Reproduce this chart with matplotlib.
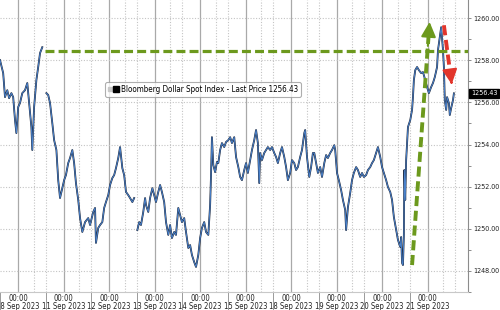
import numpy as np
import matplotlib
matplotlib.use("Agg")
from matplotlib import pyplot as plt
from matplotlib.lines import Line2D
from matplotlib.legend_handler import HandlerTuple
from matplotlib import font_manager
plt.rcParams["font.family"] = ["DejaVu Sans", "Liberation Sans"]

# x = trading-day position (0 = 08 Sep 00:00, 1 = 11 Sep 00:00, ...)
day_labels = ["08 Sep 2023", "11 Sep 2023", "12 Sep 2023", "13 Sep 2023", "14 Sep 2023",
              "15 Sep 2023", "18 Sep 2023", "19 Sep 2023", "20 Sep 2023", "21 Sep 2023"]

# 08 Sep session
t_a = [-0.40, -0.33, -0.29, -0.24, -0.20, -0.15, -0.11, -0.07, -0.04, 0.00, 0.04, 0.09,
       0.15, 0.20, 0.24, 0.29, 0.31, 0.35, 0.40, 0.44, 0.48, 0.53]
p_a = [1258.01, 1257.39, 1256.25, 1256.58, 1256.20, 1256.44, 1256.25, 1255.16, 1254.54,
       1255.78, 1255.97, 1256.44, 1256.58, 1256.92, 1255.97, 1254.83, 1253.74, 1255.78,
       1257.06, 1257.68, 1258.34, 1258.62]

# 11 - 12 Sep
t_b = [0.62, 0.66, 0.70, 0.75, 0.79, 0.84, 0.88, 0.92, 0.97, 1.01, 1.05, 1.10, 1.14, 1.19,
       1.23, 1.27, 1.32, 1.36, 1.41, 1.47, 1.54, 1.58, 1.65, 1.69, 1.71, 1.76, 1.80, 1.85,
       1.89, 1.93, 1.98, 2.02, 2.07, 2.11, 2.15, 2.20, 2.24, 2.29, 2.33, 2.37, 2.42, 2.46,
       2.51, 2.55]
p_b = [1256.44, 1256.35, 1255.97, 1255.02, 1254.21, 1253.74, 1252.31, 1251.46, 1251.93,
       1252.31, 1252.55, 1253.12, 1253.36, 1253.74, 1253.12, 1252.17, 1251.37, 1250.51,
       1249.85, 1250.32, 1250.51, 1250.18, 1250.80, 1250.99, 1249.33, 1250.04, 1250.18,
       1250.32, 1250.99, 1251.27, 1251.60, 1252.08, 1252.41, 1252.55, 1252.88, 1253.36,
       1253.88, 1252.88, 1252.55, 1251.75, 1251.60, 1251.46, 1251.27, 1251.46]

# 13 - 21 Sep
t_c = [2.62, 2.66, 2.70, 2.75, 2.79, 2.81, 2.86, 2.90, 2.95, 2.99, 3.03, 3.08, 3.12, 3.16,
       3.21, 3.25, 3.30, 3.34, 3.38, 3.43, 3.47, 3.52, 3.56, 3.60, 3.65, 3.69, 3.74, 3.78,
       3.82, 3.87, 3.91, 3.96, 4.00, 4.04, 4.09, 4.13, 4.18, 4.22, 4.24, 4.26, 4.29, 4.33,
       4.37, 4.40, 4.44, 4.48, 4.53, 4.57, 4.62, 4.66, 4.70, 4.75, 4.79, 4.84, 4.88, 4.92,
       4.97, 5.01, 5.05, 5.10, 5.14, 5.19, 5.23, 5.27, 5.30, 5.32, 5.36, 5.41, 5.45, 5.49,
       5.54, 5.58, 5.63, 5.67, 5.71, 5.76, 5.80, 5.85, 5.89, 5.93, 5.98, 6.02, 6.07, 6.11,
       6.15, 6.20, 6.24, 6.29, 6.31, 6.35, 6.40, 6.44, 6.48, 6.51, 6.55, 6.59, 6.64, 6.68,
       6.73, 6.77, 6.81, 6.86, 6.90, 6.95, 6.97, 7.01, 7.05, 7.10, 7.14, 7.19, 7.21, 7.25,
       7.30, 7.34, 7.38, 7.43, 7.47, 7.52, 7.56, 7.60, 7.65, 7.69, 7.74, 7.78, 7.82, 7.87,
       7.91, 7.96, 8.00, 8.04, 8.09, 8.13, 8.18, 8.22, 8.26, 8.31, 8.35, 8.40, 8.42, 8.44,
       8.46, 8.48, 8.49, 8.51, 8.53, 8.57, 8.62, 8.66, 8.68, 8.70, 8.73, 8.77, 8.81, 8.86,
       8.90, 8.95, 8.99, 9.03, 9.08, 9.12, 9.16, 9.21, 9.23, 9.27, 9.30, 9.34, 9.36, 9.38,
       9.41, 9.43, 9.47, 9.49, 9.52, 9.56, 9.58]
p_c = [1249.94, 1250.32, 1250.18, 1250.80, 1251.46, 1251.13, 1250.80, 1251.46, 1251.93,
       1251.60, 1251.27, 1251.75, 1252.08, 1251.75, 1251.27, 1250.32, 1249.71, 1250.18,
       1249.56, 1249.85, 1249.71, 1250.99, 1250.65, 1250.32, 1250.51, 1249.85, 1249.09,
       1249.23, 1248.76, 1248.42, 1248.19, 1248.76, 1249.56, 1250.04, 1250.32, 1249.85,
       1249.71, 1251.13, 1252.55, 1254.35, 1253.03, 1252.69, 1253.17, 1253.12, 1253.74,
       1254.07, 1253.88, 1254.12, 1254.21, 1254.35, 1254.07, 1254.35, 1253.41, 1252.93,
       1252.46, 1252.31, 1252.79, 1253.12, 1252.65, 1253.26, 1253.74, 1254.21, 1254.69,
       1254.07, 1252.17, 1253.60, 1253.26, 1253.60, 1253.74, 1253.88, 1253.74, 1253.88,
       1253.60, 1253.41, 1253.12, 1253.60, 1253.88, 1253.41, 1252.93, 1252.31, 1252.65,
       1253.26, 1253.12, 1252.79, 1252.93, 1253.41, 1253.74, 1254.54, 1254.69, 1253.41,
       1252.46, 1252.93, 1253.60, 1253.60, 1253.12, 1252.65, 1252.93, 1252.46, 1253.12,
       1253.50, 1253.36, 1253.60, 1253.74, 1253.97, 1253.74, 1252.65, 1252.31, 1251.84,
       1251.37, 1250.89, 1249.94, 1251.03, 1251.70, 1252.31, 1252.65, 1252.93, 1252.79,
       1252.46, 1252.65, 1252.46, 1252.55, 1252.79, 1252.93, 1253.12, 1253.26, 1253.60,
       1253.88, 1253.41, 1252.93, 1252.65, 1252.31, 1251.98, 1251.75, 1251.37, 1250.56,
       1249.94, 1249.47, 1249.14, 1249.61, 1248.38, 1248.28, 1249.71, 1252.79, 1251.37,
       1253.26, 1254.83, 1255.16, 1255.64, 1256.25, 1257.06, 1257.53, 1257.68, 1257.53,
       1257.39, 1257.44, 1257.06, 1256.73, 1256.44, 1256.73, 1256.92, 1257.20, 1257.68,
       1258.48, 1259.10, 1259.57, 1258.48, 1257.68, 1256.11, 1255.64, 1256.25, 1255.97,
       1255.40, 1255.73, 1256.11, 1256.43]

last_price = 1256.43
resistance = 1258.44
legend_text = "Bloomberg Dollar Spot Index - Last Price 1256.43"

# annotation arrows (start, tip)
green_arrow = ((8.66, 1248.28), (9.05, 1259.95))
red_arrow = ((9.36, 1259.66), (9.54, 1256.73))
green = "#6c991d"
red = "#e2352b"

t = np.array(t_a + [np.nan] + t_b + [np.nan] + t_c)
p = np.array(p_a + [np.nan] + p_b + [np.nan] + p_c)

# narrow face for the axis text
xfont = font_manager.FontProperties(family="DejaVu Sans", stretch="condensed", size=5.5)
yfont = font_manager.FontProperties(family="DejaVu Sans", stretch="condensed", size=5.1)

fig = plt.figure(figsize=(5, 3.1), dpi=100)
ax = fig.add_axes([0, 0.058, 0.936, 0.942])
ax.set_xlim(-0.40, 9.89)
ax.set_ylim(1247.0, 1260.86)

# grid
days = np.arange(len(day_labels))
for d in days:
    ax.axvline(d, color="#a9a9a9", lw=0.9, zorder=0)
    ax.axvline(d + 0.34, color="#c4c4c4", lw=0.8, ls=(0, (1, 1.5)), zorder=0)
    ax.axvline(d + 0.61, color="#c4c4c4", lw=0.8, ls=(0, (1, 1.5)), zorder=0)
for v in np.arange(1248, 1261, 2):
    ax.axhline(v, color="#c4c4c4", lw=0.8, ls=(0, (1, 1.5)), zorder=0)

# price line, two-tone
ax.plot(t, p, color="#1c2333", lw=1.3, zorder=2)
ax.plot(t, p, color="#4a82cc", lw=0.7, zorder=3)

# resistance line
ax.plot([0.59, 9.89], [resistance, resistance], color=green, lw=2.3,
        dashes=(2.8, 1.3), zorder=4, solid_capstyle="butt")

# arrows
for (s, e), c in [(green_arrow, green), (red_arrow, red)]:
    mid = (s[0] + (e[0] - s[0]) * 0.93, s[1] + (e[1] - s[1]) * 0.93)
    ax.plot([s[0], mid[0]], [s[1], mid[1]], color=c, lw=2.8, dashes=(2.6, 1.2),
            zorder=5, solid_capstyle="butt")
    ax.annotate("", xy=e, xytext=(s[0] + (e[0] - s[0]) * 0.88, s[1] + (e[1] - s[1]) * 0.88),
                arrowprops=dict(arrowstyle="-|>,head_length=0.9,head_width=0.45",
                                color=c, lw=1.5, mutation_scale=10), zorder=5)

# axes styling
for side in ["left", "top"]:
    ax.spines[side].set_visible(False)
ax.spines["right"].set_color("#8c8c8c")
ax.spines["bottom"].set_color("#c8c8c8")
ax.yaxis.tick_right()
ax.set_yticks(np.arange(1248, 1261, 2))
ax.set_yticks(np.arange(1247, 1261, 1), minor=True)
ax.set_yticklabels(["%.2f" % v for v in np.arange(1248, 1261, 2)], fontproperties=yfont)
ax.tick_params(axis="y", which="both", length=2.5, width=0.7, color="#8c8c8c",
               pad=1.0, labelcolor="#222222")

ax.set_xticks(np.arange(-1, 9) + 0.61)
ax.set_xticklabels([])
ax.set_xticks(days, minor=True)
ax.set_xticklabels(["00:00\n" + s for s in day_labels], minor=True, fontproperties=xfont)
ax.tick_params(axis="x", which="major", length=19, width=0.7, color="#9a9a9a")
ax.tick_params(axis="x", which="minor", length=0, pad=1.2, labelcolor="#222222")
for lab in ax.get_xticklabels(minor=True):
    lab.set_linespacing(0.95)

# legend
h1 = Line2D([], [], marker="s", ls="", color="#c8c8c8", markersize=3)
h2 = Line2D([], [], marker="s", ls="", color="black", markersize=5)
leg = ax.legend([(h1, h2)], [legend_text], handler_map={tuple: HandlerTuple(ndivide=None, pad=0.1)},
                loc="upper left", bbox_to_anchor=(105 / 468, 1 - 82 / 292),
                prop=font_manager.FontProperties(family="DejaVu Sans", stretch="condensed", size=5.8),
                frameon=True, fancybox=True, handlelength=1.3,
                handletextpad=0.3, borderpad=0.35, borderaxespad=0)
leg.get_frame().set_edgecolor("#9a9a9a")
leg.get_frame().set_linewidth(0.8)

# last price tag
ax.annotate("%.2f" % last_price, xy=(1.0, last_price), xycoords=("axes fraction", "data"),
            xytext=(2.0, 0), textcoords="offset points", va="center", ha="left",
            fontproperties=yfont, color="white", annotation_clip=False,
            bbox=dict(boxstyle="square,pad=0.2", fc="black", ec="black"))

fig.savefig("out.png", dpi=100)
